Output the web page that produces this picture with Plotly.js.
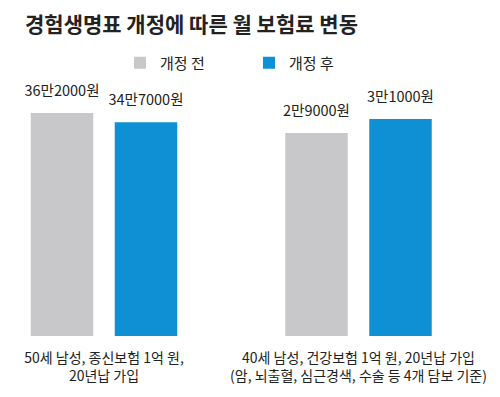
<!DOCTYPE html>
<html>
<head>
<meta charset="utf-8">
<script src="https://cdn.plot.ly/plotly-3.0.1.min.js"></script>
<style>html,body{margin:0;padding:0;background:#fff;}#chart{width:500px;height:397px;}</style>
</head>
<body>
<div id="chart"></div>
<script>
const titleText = "경험생명표 개정에 따른 월 보험료 변동";
const seriesNames = ["개정 전", "개정 후"];
const categories = [
  "50세 남성, 종신보험 1억 원,<br>20년납 가입",
  "40세 남성, 건강보험 1억 원, 20년납 가입<br>(암, 뇌출혈, 심근경색, 수술 등 4개 담보 기준)"
];
const beforeValues = [362000, 29000];
const afterValues = [347000, 31000];
const beforeLabels = ["36만2000원", "2만9000원"];
const afterLabels = ["34만7000원", "3만1000원"];

const colors = ["#c8c8ca", "#0f90d4"];
const FONT = "'Noto Sans CJK KR', 'Noto Sans', sans-serif";
const yMax = [415600, 36570];

const traces = [];
const labelTraces = [];
categories.forEach((cat, i) => {
  const xa = i === 0 ? "x" : "x2";
  const ya = i === 0 ? "y" : "y2";
  [[beforeValues, beforeLabels], [afterValues, afterLabels]].forEach(([vals, labs], s) => {
    traces.push({
      type: "bar",
      name: seriesNames[s],
      x: [cat],
      y: [vals[i]],
      offsetgroup: "s" + s,
      alignmentgroup: "g" + i,
      marker: {color: colors[s]},
      xaxis: xa, yaxis: ya,
      showlegend: i === 0,
      legendgroup: "s" + s,
      hoverinfo: "skip"
    });
    labelTraces.push({
      type: "scatter",
      mode: "markers+text",
      x: [cat],
      y: [vals[i]],
      text: [labs[i]],
      textposition: "top center",
      offsetgroup: "s" + s,
      alignmentgroup: "g" + i,
      marker: {size: 20, opacity: 0, color: colors[s]},
      textfont: {family: FONT, size: 14.5, color: "#222"},
      cliponaxis: false,
      xaxis: xa, yaxis: ya,
      showlegend: false,
      hoverinfo: "skip"
    });
  });
});

const axisX = (dom) => ({
  domain: dom, type: "category", showgrid: false, zeroline: false, showline: false,
  ticks: "", ticklabelstandoff: 12,
  tickfont: {family: FONT, size: 14, color: "#222"}, fixedrange: true
});
const axisY = (max, anchor) => ({
  range: [0, max], visible: false, showgrid: false, zeroline: false, anchor: anchor, fixedrange: true
});

const layout = {
  width: 500, height: 397,
  margin: {l: 0, r: 0, t: 80, b: 61},
  paper_bgcolor: "#fff", plot_bgcolor: "#fff",
  title: {
    text: "<b>" + titleText + "</b>",
    font: {family: FONT, size: 21, color: "#222"},
    xref: "container", yref: "container", x: 0.05, xanchor: "left", y: 1 - 25/397, yanchor: "middle"
  },
  barmode: "group", bargap: 0.16, bargroupgap: 0.256,
  scattermode: "group", scattergap: 0.16,
  xaxis: axisX([0.008, 0.408]),
  xaxis2: axisX([0.517, 0.917]),
  yaxis: axisY(yMax[0], "x"),
  yaxis2: axisY(yMax[1], "x2"),
  showlegend: true,
  legend: {
    orientation: "h", x: 0.24, xanchor: "left", y: 1.066, yanchor: "middle",
    font: {family: FONT, size: 15, color: "#222"},
    entrywidth: 84, entrywidthmode: "pixels", traceorder: "normal"
  },
  font: {family: FONT}
};

Plotly.newPlot("chart", traces.concat(labelTraces), layout, {displayModeBar: false, staticPlot: true});
</script>
</body>
</html>
